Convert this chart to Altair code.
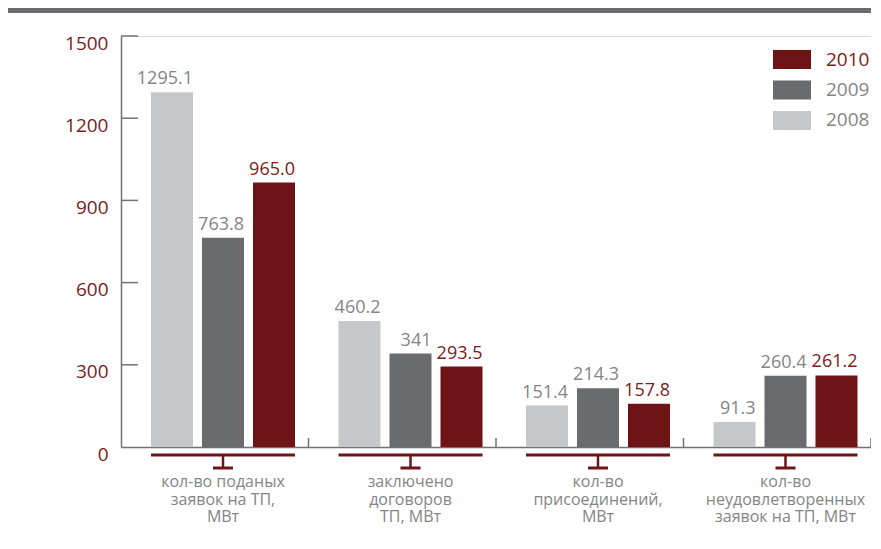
import altair as alt
import pandas as pd

# ---- data -------------------------------------------------------------
cat_keys = ["c1", "c2", "c3", "c4"]
cat_labels = [
    "кол-во поданых\nзаявок на ТП,\nМВт",
    "заключено\nдоговоров\nТП, МВт",
    "кол-во\nприсоединений,\nМВт",
    "кол-во\nнеудовлетворенных\nзаявок на ТП, МВт",
]
years = ["2008", "2009", "2010"]
values_2008 = [1295.1, 460.2, 151.4, 91.3]
values_2009 = [763.8, 341.0, 214.3, 260.4]
values_2010 = [965.0, 293.5, 157.8, 261.2]
labels_2008 = ["1295.1", "460.2", "151.4", "91.3"]
labels_2009 = ["763.8", "341", "214.3", "260.4"]
labels_2010 = ["965.0", "293.5", "157.8", "261.2"]
y_ticks = [0, 300, 600, 900, 1200, 1500]
legend_years = ["2010", "2009", "2008"]

# ---- styles -----------------------------------------------------------
RED = "#6e1416"
RED_TXT = "#7a1c20"
DARK = "#6a6b6f"
LIGHT = "#c6c7c9"
GRAY_TXT = "#858585"
AX = "#727272"
FONT = "Open Sans"

rows = []
for yr, vals, labs in [("2008", values_2008, labels_2008),
                       ("2009", values_2009, labels_2009),
                       ("2010", values_2010, labels_2010)]:
    for k, v, l in zip(cat_keys, vals, labs):
        rows.append({"cat": k, "year": yr, "value": v, "label": l})
df = pd.DataFrame(rows)

cat_df = pd.DataFrame({"cat": cat_keys, "year": ["2009"] * 4, "label": cat_labels})
tick_df = pd.DataFrame({"value": y_ticks[1:]})
leg_df = pd.DataFrame({"year": legend_years})

x_scale = alt.Scale(domain=cat_keys, paddingInner=0, paddingOuter=0)
xo_scale = alt.Scale(domain=years, range=[30, 174], paddingInner=0.176, paddingOuter=0)
y_scale = alt.Scale(domain=[0, 1500], nice=False, zero=True)
color_scale = alt.Scale(domain=years, range=[LIGHT, DARK, RED])

x_axis = alt.Axis(labels=False, ticks=False, domainColor=AX, domainWidth=1.5, grid=False)
y_axis = alt.Axis(values=y_ticks, format="d", ticks=False, tickSize=0, labelPadding=13,
                  labelFont=FONT, labelFontSize=19, labelColor=RED_TXT,
                  labelOffset=7, domainColor=AX, domainWidth=1.5, grid=False)

X = alt.X("cat:N", scale=x_scale, title=None, axis=x_axis)
XO = alt.XOffset("year:N", scale=xo_scale)
Y = alt.Y("value:Q", scale=y_scale, title=None, axis=y_axis)

bars = alt.Chart(df).mark_bar().encode(
    x=X, xOffset=XO, y=Y,
    color=alt.Color("year:N", scale=color_scale, legend=None),
)

value_text = alt.Chart(df).mark_text(
    align="right", baseline="bottom", dx=21, dy=-4, font=FONT, fontSize=18
).encode(
    x=X, xOffset=XO, y=Y,
    text="label:N",
    color=alt.condition("datum.year == '2010'", alt.value(RED_TXT), alt.value(GRAY_TXT)),
)

ytick_rules = alt.Chart(tick_df).mark_rule(color=AX, strokeWidth=1.5).encode(
    y=Y, x=alt.value(0), x2=alt.value(17)
)

group_ticks = alt.Chart(cat_df).mark_rule(color=AX, strokeWidth=1.5).encode(
    x=alt.X("cat:N", scale=x_scale, bandPosition=1, title=None, axis=x_axis),
    y=alt.value(411), y2=alt.value(402),
)

bracket_line = alt.Chart(cat_df).mark_tick(
    orient="horizontal", size=144, thickness=3, color=RED, opacity=1
).encode(x=X, xOffset=XO, y=alt.value(419))

bracket_stem = alt.Chart(cat_df).mark_rule(color=RED, strokeWidth=2.5, opacity=1).encode(
    x=X, xOffset=XO, y=alt.value(419), y2=alt.value(432)
)

bracket_foot = alt.Chart(cat_df).mark_tick(
    orient="horizontal", size=20, thickness=3, color=RED, opacity=1
).encode(x=X, xOffset=XO, y=alt.value(432))

cat_text = alt.Chart(cat_df).mark_text(
    baseline="top", align="center", lineBreak="\n", font=FONT, fontSize=16,
    lineHeight=17.5, color=GRAY_TXT
).encode(x=X, xOffset=XO, y=alt.value(438), text="label:N")

top_band = alt.Chart(alt.Data(values=[{"a": 1}])).mark_rect(color=DARK).encode(
    x=alt.value(-113), x2=alt.value(765), y=alt.value(-28), y2=alt.value(-23)
)

main = alt.layer(bars, top_band, ytick_rules, group_ticks, value_text,
                 bracket_line, bracket_stem, bracket_foot, cat_text)

leg_y = alt.Scale(domain=legend_years, range=[14, 94], paddingInner=0.377, paddingOuter=0)
leg_rect = alt.Chart(leg_df).mark_rect().encode(
    x=alt.value(652), x2=alt.value(690),
    y=alt.Y("year:N", scale=leg_y, axis=None),
    color=alt.Color("year:N", scale=color_scale, legend=None),
)
leg_text = alt.Chart(leg_df).mark_text(
    align="left", baseline="middle", font=FONT, fontSize=19
).encode(
    x=alt.value(705),
    y=alt.Y("year:N", scale=leg_y, axis=None, bandPosition=0.5),
    text="year:N",
    color=alt.condition("datum.year == '2010'", alt.value(RED_TXT), alt.value(GRAY_TXT)),
)
legend = alt.layer(leg_rect, leg_text)

chart = alt.layer(main, legend).resolve_scale(y="independent").properties(
    width=750, height=411,
    autosize=alt.AutoSizeParams(type="none"),
    padding={"left": 113, "top": 28, "right": 0, "bottom": 94},
).configure_view(stroke=None).configure(background="white")

chart.save("out.html", embed_options={"renderer": "svg", "actions": False})
